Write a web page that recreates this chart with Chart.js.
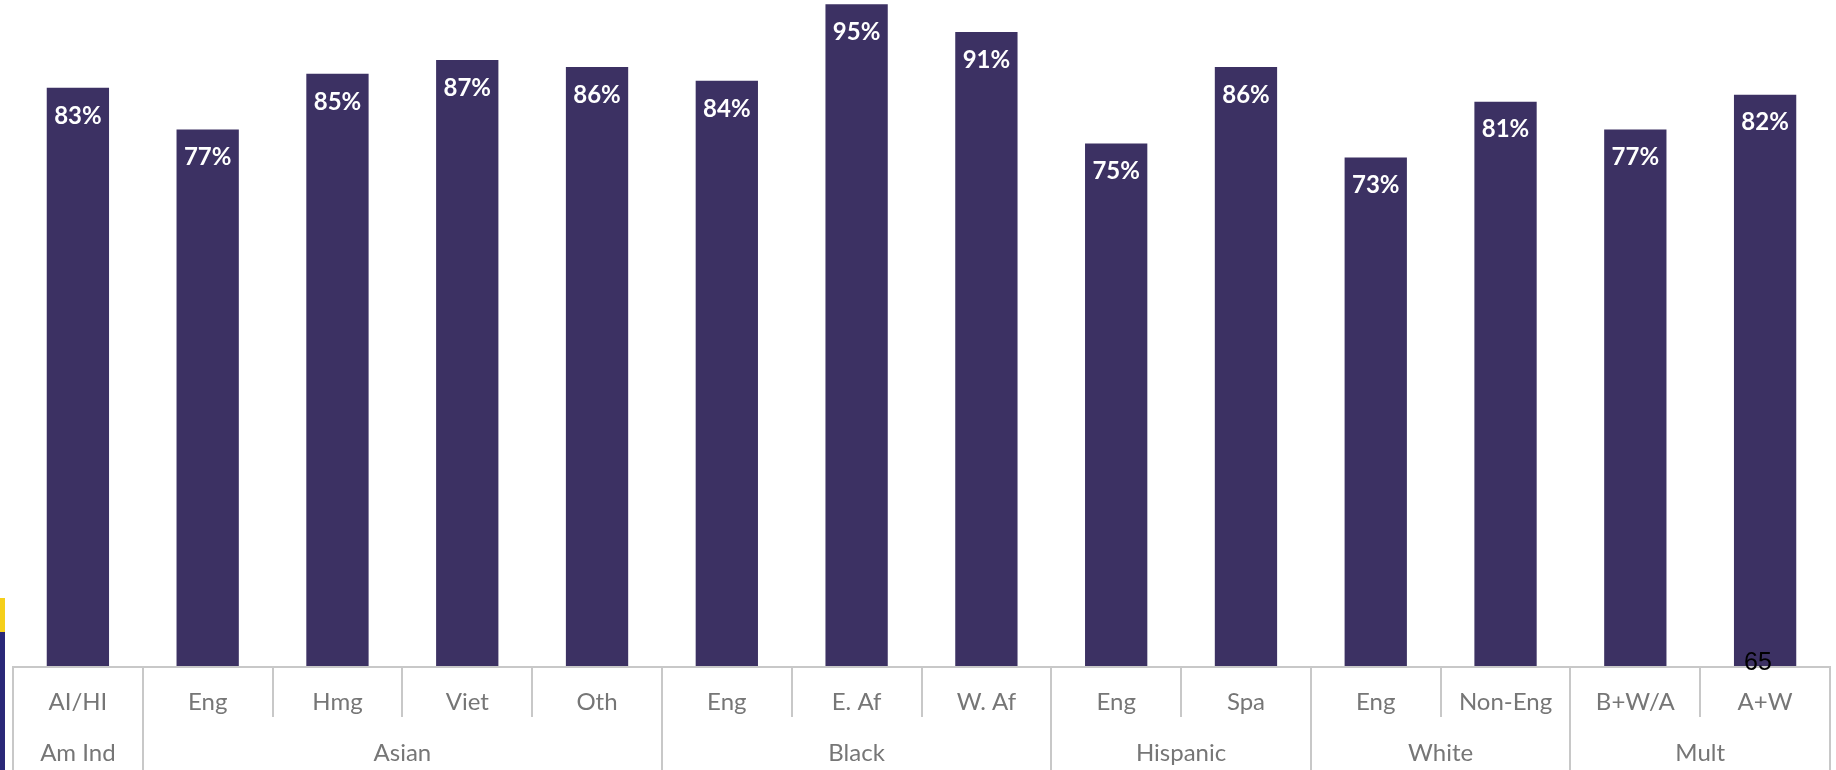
<!DOCTYPE html>
<html>
<head>
<meta charset="utf-8">
<script src="https://cdn.jsdelivr.net/npm/chart.js@4"></script>
<style>
  html, body { margin: 0; padding: 0; background: #ffffff; overflow: hidden; }
  #wrap { position: relative; width: 1836px; height: 770px; }
  #strip-y { position: absolute; left: 0; top: 598px; width: 5px; height: 34px; background: #f5cf1a; }
  #strip-b { position: absolute; left: 0; top: 632px; width: 5px; height: 138px; background: #2a2878; }
  #pagenum { position: absolute; left: 1744px; top: 646px; font-family: "Liberation Sans", Arial, sans-serif; font-size: 25px; color: #000; line-height: 30px; z-index: 2; }
</style>
</head>
<body>
<div id="wrap">
  <canvas id="c" width="1836" height="770"></canvas>
  <div id="strip-y"></div>
  <div id="strip-b"></div>
  <div id="pagenum">65</div>
</div>
<script>
const subLabels = ["AI/HI", "Eng", "Hmg", "Viet", "Oth", "Eng", "E. Af", "W. Af", "Eng", "Spa", "Eng", "Non-Eng", "B+W/A", "A+W"];
const values = [83, 77, 85, 87, 86, 84, 95, 91, 75, 86, 73, 81, 77, 82];
const groupNames = ["Am Ind", "Asian", "Black", "Hispanic", "White", "Mult"];
const groupSizes = [1, 4, 3, 2, 2, 2];

const BAR = '#3c3163';
const GRID = '#c8c8c8';
const TEXT = '#767676';
const FONT_FAMILY = 'Lato, "Open Sans", sans-serif';

const valueLabels = {
  id: 'valueLabels',
  afterDatasetsDraw(chart) {
    const ctx = chart.ctx;
    const meta = chart.getDatasetMeta(0);
    ctx.save();
    ctx.fillStyle = '#ffffff';
    ctx.font = 'bold 24px ' + FONT_FAMILY;
    ctx.textAlign = 'center';
    ctx.textBaseline = 'middle';
    meta.data.forEach((bar, i) => {
      ctx.fillText(values[i] + '%', bar.x, bar.y + 28);
    });
    ctx.restore();
  }
};

// two-level category axis drawn from the x scale's own positions
const groupAxis = {
  id: 'groupAxis',
  afterDraw(chart) {
    const ctx = chart.ctx;
    const xs = chart.scales.x;
    const y0 = chart.chartArea.bottom;
    const yMid = y0 + 51;
    const yEnd = chart.height;
    const groupEdges = new Set();
    let s = 0;
    groupEdges.add(-0.5);
    groupSizes.forEach(n => { s += n; groupEdges.add(s - 0.5); });

    ctx.save();
    ctx.strokeStyle = GRID;
    ctx.lineWidth = 2;
    ctx.beginPath();
    ctx.moveTo(xs.getPixelForValue(-0.5), y0 + 1);
    ctx.lineTo(xs.getPixelForValue(subLabels.length - 0.5), y0 + 1);
    ctx.stroke();
    for (let i = 0; i <= subLabels.length; i++) {
      const v = i - 0.5;
      const x = Math.round(xs.getPixelForValue(v));
      ctx.beginPath();
      ctx.moveTo(x, y0);
      ctx.lineTo(x, groupEdges.has(v) ? yEnd : yMid);
      ctx.stroke();
    }
    ctx.fillStyle = TEXT;
    ctx.font = '24px ' + FONT_FAMILY;
    ctx.textAlign = 'center';
    ctx.textBaseline = 'middle';
    subLabels.forEach((lab, i) => {
      ctx.fillText(lab, xs.getPixelForValue(i), y0 + 36);
    });
    let start = 0;
    groupNames.forEach((g, gi) => {
      const n = groupSizes[gi];
      const c = start + (n - 1) / 2;
      ctx.fillText(g, xs.getPixelForValue(c), y0 + 87);
      start += n;
    });
    ctx.restore();
  }
};

new Chart(document.getElementById('c'), {
  type: 'bar',
  data: {
    labels: subLabels,
    datasets: [{
      data: values,
      backgroundColor: BAR,
      borderWidth: 0,
      categoryPercentage: 1,
      barPercentage: 0.48
    }]
  },
  options: {
    responsive: false,
    animation: false,
    devicePixelRatio: 1,
    layout: { padding: { left: 13, right: 6, top: 0, bottom: 104 } },
    plugins: { legend: { display: false }, tooltip: { enabled: false } },
    scales: {
      y: { display: false, min: 0, max: 95.6 },
      x: {
        type: 'category',
        offset: true,
        display: false
      }
    }
  },
  plugins: [valueLabels, groupAxis]
});
</script>
</body>
</html>
